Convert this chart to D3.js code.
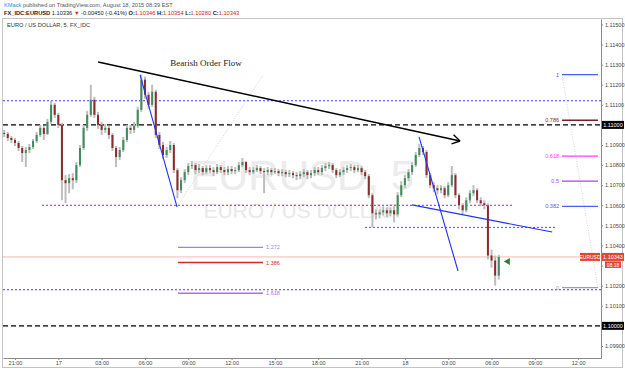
<!DOCTYPE html>
<html>
<head>
<meta charset="utf-8">
<script src="https://d3js.org/d3.v7.min.js"></script>
<style>
body { margin: 0; background: #fff; }
svg text { font-family: "Liberation Sans", Arial, sans-serif; }
</style>
</head>
<body>
<script>
// 15 minute EURUSD bars, time in hours from Aug 17 00:00
var startHour = -3.75;
var barHours = 0.25;
var firstOpen = 1.1096;

var closes = [
    1.10955, 1.10935, 1.10925, 1.1091, 1.10885, 1.1086, 1.10875, 1.1089, 1.1092, 1.1095,
    1.10985, 1.10955, 1.11015, 1.111, 1.1105, 1.11, 1.10725, 1.1071, 1.10735, 1.10725,
    1.108, 1.10885, 1.10985, 1.1105, 1.11125, 1.1105, 1.11, 1.10975, 1.10985, 1.1095,
    1.10885, 1.1084, 1.10875, 1.10925, 1.10985, 1.10975, 1.10995, 1.11075, 1.11225, 1.1115,
    1.111, 1.11165, 1.1095, 1.109, 1.1085, 1.10875, 1.109, 1.10775, 1.10675, 1.10725,
    1.10765, 1.10795, 1.108, 1.10775, 1.10785, 1.10765, 1.10785, 1.10775, 1.10765, 1.1079,
    1.10775, 1.10765, 1.1078, 1.1077, 1.10775, 1.108, 1.10815, 1.10775, 1.10765, 1.10775,
    1.10785, 1.1077, 1.10765, 1.10775, 1.10765, 1.1077, 1.1076, 1.10765, 1.10755, 1.1076,
    1.1075, 1.10745, 1.10755, 1.10765, 1.1075, 1.1076, 1.10775, 1.10765, 1.10785, 1.10795,
    1.108, 1.10775, 1.1075, 1.10765, 1.10775, 1.10785, 1.1079, 1.10775, 1.10785, 1.10765,
    1.10745, 1.1065, 1.1056, 1.10555, 1.10565, 1.10575, 1.1056, 1.10575, 1.10555, 1.1065,
    1.107, 1.10735, 1.10765, 1.108, 1.1085, 1.10885, 1.10865, 1.1075, 1.107, 1.10685,
    1.10675, 1.10685, 1.1065, 1.107, 1.1075, 1.1065, 1.106, 1.10575, 1.10625, 1.1066,
    1.10675, 1.10625, 1.1061, 1.106, 1.1035, 1.10325, 1.1025, 1.10343
];
var highs = [
    1.10975, 1.10965, 1.10945, 1.10935, 1.1092, 1.10895, 1.1089, 1.10905, 1.1093, 1.10965,
    1.11, 1.10995, 1.1103, 1.1112, 1.1111, 1.1106, 1.1101, 1.1075, 1.10755, 1.1076,
    1.10815, 1.109, 1.11, 1.1107, 1.112, 1.1114, 1.11065, 1.11015, 1.11005, 1.10995,
    1.1096, 1.10895, 1.1089, 1.1094, 1.11, 1.11, 1.11015, 1.1109, 1.1125, 1.1124,
    1.11165, 1.112, 1.11175, 1.10965, 1.10915, 1.1089, 1.1092, 1.1091, 1.10785, 1.1074,
    1.1078, 1.1081, 1.1082, 1.1081, 1.10805, 1.10795, 1.108, 1.108, 1.1079, 1.10805,
    1.108, 1.1079, 1.10795, 1.10795, 1.1079, 1.10815, 1.10835, 1.1082, 1.1079, 1.1079,
    1.108, 1.10795, 1.10785, 1.1079, 1.10785, 1.10785, 1.1078, 1.1078, 1.10775, 1.10775,
    1.1077, 1.10765, 1.1077, 1.1078, 1.10775, 1.10775, 1.1079, 1.1079, 1.108, 1.1081,
    1.10815, 1.1081, 1.10785, 1.1078, 1.1079, 1.108, 1.10805, 1.108, 1.108, 1.10795,
    1.10775, 1.10755, 1.1066, 1.1058, 1.1058, 1.10595, 1.1059, 1.1059, 1.10595, 1.10665,
    1.1072, 1.1075, 1.1078, 1.10815, 1.10865, 1.10905, 1.10895, 1.10875, 1.1076, 1.10715,
    1.107, 1.107, 1.10695, 1.10715, 1.10795, 1.1076, 1.1066, 1.1061, 1.1064, 1.10675,
    1.107, 1.10685, 1.1064, 1.10625, 1.1061, 1.1038, 1.1035, 1.10354
];
var lows = [
    1.1094, 1.1092, 1.1091, 1.10895, 1.1087, 1.10815, 1.1079, 1.1086, 1.1088, 1.1091,
    1.1094, 1.10925, 1.1095, 1.11005, 1.11035, 1.10985, 1.10625, 1.1061, 1.1066, 1.1068,
    1.1071, 1.1079, 1.10875, 1.1097, 1.1104, 1.11035, 1.1098, 1.1095, 1.1096, 1.1093,
    1.1087, 1.1079, 1.10825, 1.10865, 1.10915, 1.10955, 1.1096, 1.10985, 1.11065, 1.1113,
    1.1108, 1.1109, 1.10935, 1.1088, 1.1083, 1.10835, 1.1086, 1.1076, 1.10635, 1.1066,
    1.1071, 1.1075, 1.1078, 1.10755, 1.1076, 1.1075, 1.10755, 1.1076, 1.10745, 1.10755,
    1.1076, 1.1075, 1.1075, 1.10755, 1.10755, 1.10765, 1.1079, 1.1076, 1.1075, 1.10755,
    1.10765, 1.10755, 1.1066, 1.1075, 1.1075, 1.10755, 1.10745, 1.10745, 1.1074, 1.1074,
    1.10735, 1.10725, 1.1073, 1.1074, 1.1073, 1.10735, 1.10745, 1.1075, 1.1075, 1.1077,
    1.1078, 1.1076, 1.10735, 1.1074, 1.1075, 1.1076, 1.1077, 1.1076, 1.10765, 1.1075,
    1.1073, 1.10635, 1.1049, 1.1053, 1.10535, 1.1055, 1.1054, 1.10545, 1.10515, 1.10545,
    1.1064, 1.10685, 1.1072, 1.1075, 1.1079, 1.1084, 1.1085, 1.10735, 1.10685, 1.10665,
    1.10655, 1.1066, 1.10635, 1.1064, 1.1069, 1.10635, 1.1058, 1.10555, 1.10565, 1.1061,
    1.10645, 1.1061, 1.10595, 1.1058, 1.1033, 1.1029, 1.102, 1.1023
];

// axis ticks
var timeTicks = [-3, 0, 3, 6, 9, 12, 15, 18, 21, 24, 27, 30, 33, 36];
var timeTickLabels = ["21:00", "17", "03:00", "06:00", "09:00", "12:00", "15:00",
    "18:00", "21:00", "18", "03:00", "06:00", "09:00", "12:00"];
var priceTicks = [1.099, 1.100, 1.101, 1.102, 1.103, 1.104, 1.105, 1.106, 1.107,
    1.108, 1.109, 1.110, 1.111, 1.112, 1.113, 1.114, 1.115];
var markedPrices = [1.1100, 1.1000];
var lastPrice = 1.10343;

// drawn levels and tools: [hour, price]
var blueDottedLevels = [1.1112, 1.1018];
var blackDashedLevels = [1.1100, 1.1000];
var purpleSegments = [[[-1.13, 1.1060], [31.5, 1.1060]], [[21.24, 1.1049], [34.47, 1.1049]]];
var arrowLine = [[2.76, 1.11313], [27.82, 1.1092]];
var blueLines = [
    [[5.66, 1.11249], [8.22, 1.10592]],
    [[24.98, 1.1094], [27.68, 1.10273]],
    [[24.49, 1.10602], [34.2, 1.10467]]
];
var fibGuides = [
    [[8.22, 1.10592], [14.18, 1.11249]],
    [[34.88, 1.1125], [37.37, 1.1019]]
];
var fibLevels = [0, 0.382, 0.5, 0.618, 0.786, 1];
var fibLabels = ["0", "0.382", "0.5", "0.618", "0.786", "1"];
var fibLow = 1.1019, fibHigh = 1.1125, fibFrom = 34.88, fibTo = 37.37;
var extLevels = [1.272, 1.386, 1.618];
var extTop = 1.1123, extA = 1.1125, extB = 1.1059, extFrom = 8.29, extTo = 14.18;
var noteText = "Bearish Order Flow";
var notePos = [7.75, 1.11293];
var markerPos = [30.85, 1.1032];

var W = 625, H = 370;
var svg = d3.select("body").append("svg")
    .attr("width", W)
    .attr("height", H)
    .style("display", "block");

svg.append("rect").attr("width", W).attr("height", H).attr("fill", "#fff");

// scales
var x = d3.scaleLinear().domain([-3.83, 37.58]).range([3, 601]);
var y = d3.scaleLinear().domain([1.0984, 1.11527]).range([358, 19]);

// header
var head1 = svg.append("text").attr("x", 4).attr("y", 6.5)
    .attr("font-size", 5.7).attr("fill", "#555");
head1.append("tspan").attr("fill", "#2f8ddb").text("KMack");
head1.append("tspan").text(" published on TradingView.com, August 18, 2015 08:39 EST");

var head2 = svg.append("text").attr("x", 4).attr("y", 14.5)
    .attr("font-size", 5.7).attr("fill", "#222");
head2.append("tspan").attr("font-weight", "bold").text("FX_IDC:EURUSD");
head2.append("tspan").text(" 1.10336 ");
head2.append("tspan").attr("fill", "#c62828").text("\u25BC");
head2.append("tspan").text(" -0.00450 (-0.41%) ");
[["O:", "1.10346"], ["H:", "1.10354"], ["L:", "1.10280"], ["C:", "1.10343"]].forEach(function(p) {
    head2.append("tspan").attr("font-weight", "bold").text(p[0]);
    head2.append("tspan").attr("fill", "#c62828").text(p[1] + " ");
});

// panel frame
svg.append("rect")
    .attr("x", 2.5).attr("y", 18.5).attr("width", 620).attr("height", 349)
    .attr("fill", "none").attr("stroke", "#c4c4c4");

svg.append("text").attr("x", 7).attr("y", 27)
    .attr("font-size", 5.7).attr("fill", "#333")
    .text("EURO / US DOLLAR, 5, FX_IDC");

// watermark
svg.append("text").attr("x", 302).attr("y", 190)
    .attr("text-anchor", "middle").attr("font-size", 42).attr("fill", "#ececec")
    .text("EURUSD, 5");
svg.append("text").attr("x", 302).attr("y", 218)
    .attr("text-anchor", "middle").attr("font-size", 21).attr("fill", "#e8e8e8")
    .text("EURO / US DOLLAR");

var plot = svg.append("g");

// horizontal levels
plot.append("line")
    .attr("x1", 3).attr("x2", 601).attr("y1", y(lastPrice)).attr("y2", y(lastPrice))
    .attr("stroke", "#f6b8b0").attr("stroke-width", 1);

blueDottedLevels.forEach(function(p) {
    plot.append("line")
        .attr("x1", 3).attr("x2", 601).attr("y1", y(p)).attr("y2", y(p))
        .attr("stroke", "#3d3dff").attr("stroke-width", 1.1)
        .attr("stroke-dasharray", "2,2");
});
blackDashedLevels.forEach(function(p) {
    plot.append("line")
        .attr("x1", 3).attr("x2", 601).attr("y1", y(p)).attr("y2", y(p))
        .attr("stroke", "#000").attr("stroke-width", 1.4)
        .attr("stroke-dasharray", "5,3");
});
purpleSegments.forEach(function(s) {
    plot.append("line")
        .attr("x1", x(s[0][0])).attr("x2", x(s[1][0]))
        .attr("y1", y(s[0][1])).attr("y2", y(s[1][1]))
        .attr("stroke", "#8a2be2").attr("stroke-width", 1)
        .attr("stroke-dasharray", "2,2");
});

// fib guides (faint dotted)
fibGuides.forEach(function(s) {
    plot.append("line")
        .attr("x1", x(s[0][0])).attr("x2", x(s[1][0]))
        .attr("y1", y(s[0][1])).attr("y2", y(s[1][1]))
        .attr("stroke", "#c8c8c8").attr("stroke-width", 0.8)
        .attr("stroke-dasharray", "1,1.5");
});

// candles
var bars = closes.map(function(c, i) {
    return {
        t: startHour + i * barHours,
        o: i ? closes[i - 1] : firstOpen,
        h: highs[i],
        l: lows[i],
        c: c
    };
});

plot.selectAll(".wick").data(bars).enter().append("line")
    .attr("class", "wick")
    .attr("x1", function(d) { return x(d.t); })
    .attr("x2", function(d) { return x(d.t); })
    .attr("y1", function(d) { return y(d.h); })
    .attr("y2", function(d) { return y(d.l); })
    .attr("stroke", "#bdbdbd").attr("stroke-width", 2);

plot.selectAll(".body").data(bars).enter().append("rect")
    .attr("class", "body")
    .attr("x", function(d) { return x(d.t) - 1; })
    .attr("width", 2)
    .attr("y", function(d) { return y(Math.max(d.o, d.c)); })
    .attr("height", function(d) { return Math.max(0.8, Math.abs(y(d.o) - y(d.c))); })
    .attr("fill", function(d) { return d.c >= d.o ? "#3f8c5c" : "#8f2a2a"; });

// blue trend lines
blueLines.forEach(function(s) {
    plot.append("line")
        .attr("x1", x(s[0][0])).attr("x2", x(s[1][0]))
        .attr("y1", y(s[0][1])).attr("y2", y(s[1][1]))
        .attr("stroke", "#1f2fff").attr("stroke-width", 1.1);
});

// bearish arrow
var ax1 = x(arrowLine[0][0]), ay1 = y(arrowLine[0][1]);
var ax2 = x(arrowLine[1][0]), ay2 = y(arrowLine[1][1]);
plot.append("line")
    .attr("x1", ax1).attr("y1", ay1).attr("x2", ax2).attr("y2", ay2)
    .attr("stroke", "#000").attr("stroke-width", 1.6);
var ang = Math.atan2(ay2 - ay1, ax2 - ax1);
[-0.55, 0.55].forEach(function(a) {
    plot.append("line")
        .attr("x1", ax2).attr("y1", ay2)
        .attr("x2", ax2 - 9 * Math.cos(ang + a))
        .attr("y2", ay2 - 9 * Math.sin(ang + a))
        .attr("stroke", "#000").attr("stroke-width", 1.4);
});
svg.append("text")
    .attr("x", x(notePos[0])).attr("y", y(notePos[1]))
    .style("font-family", "'Liberation Serif', 'Times New Roman', serif")
    .attr("font-size", 9).attr("fill", "#222")
    .text(noteText);

// fib retracement (right)
var fibColors = ["#a0a0a0", "#4e5cff", "#a648dc", "#ff3cff", "#7a1f1f", "#4e5cff"];
fibLevels.forEach(function(f, i) {
    var p = fibLow + f * (fibHigh - fibLow);
    plot.append("line")
        .attr("x1", x(fibFrom)).attr("x2", x(fibTo))
        .attr("y1", y(p)).attr("y2", y(p))
        .attr("stroke", fibColors[i]).attr("stroke-width", 1.3);
    plot.append("text")
        .attr("x", x(fibFrom) - 3).attr("y", y(p) + 2)
        .attr("text-anchor", "end").attr("font-size", 5.5)
        .attr("fill", fibColors[i])
        .text(fibLabels[i]);
});

// fib extension (left)
var extColors = ["#8a8ae8", "#d42a2a", "#b070e0"];
extLevels.forEach(function(f, i) {
    var p = extTop - f * (extA - extB);
    plot.append("line")
        .attr("x1", x(extFrom)).attr("x2", x(extTo))
        .attr("y1", y(p)).attr("y2", y(p))
        .attr("stroke", extColors[i]).attr("stroke-width", 1.3);
    plot.append("text")
        .attr("x", x(extTo) + 3).attr("y", y(p) + 2)
        .attr("font-size", 5.5).attr("fill", extColors[i])
        .text(f.toFixed(3));
});

// green marker
var mx = x(markerPos[0]), my = y(markerPos[1]);
plot.append("path")
    .attr("d", "M" + mx + "," + my + "L" + (mx + 6) + "," + (my - 3.5) + "L" + (mx + 6) + "," + (my + 3.5) + "Z")
    .attr("fill", "#2e7d32");

// axes
var yAxis = svg.append("g")
    .attr("transform", "translate(601,0)")
    .call(d3.axisRight(y).tickValues(priceTicks).tickFormat(d3.format(".5f"))
        .tickSize(2).tickSizeOuter(0).tickPadding(2));
var xAxis = svg.append("g")
    .attr("transform", "translate(0,358)")
    .call(d3.axisBottom(x).tickValues(timeTicks)
        .tickFormat(function(d, i) { return timeTickLabels[i]; })
        .tickSize(2).tickSizeOuter(0).tickPadding(1.5));
[yAxis, xAxis].forEach(function(g) {
    g.select(".domain").attr("stroke", "#8a8a8a");
    g.selectAll(".tick line").attr("stroke", "#8a8a8a");
    g.selectAll(".tick text").attr("font-size", 5.5).attr("fill", "#444");
});

// tick labels covered by the marked boxes are not shown
yAxis.selectAll(".tick text")
    .filter(function(d) {
        return markedPrices.some(function(p) { return Math.abs(p - d) < 1e-6; }) ||
            Math.abs(y(d) - y(lastPrice)) < 10;
    })
    .remove();

// highlighted axis labels
markedPrices.forEach(function(p) {
    svg.append("rect").attr("x", 602).attr("y", y(p) - 4).attr("width", 22).attr("height", 8)
        .attr("fill", "#000");
    svg.append("text").attr("x", 613).attr("y", y(p) + 2)
        .attr("text-anchor", "middle").attr("font-size", 5.5).attr("fill", "#fff")
        .text(d3.format(".5f")(p));
});
svg.append("rect").attr("x", 602).attr("y", y(lastPrice) - 4).attr("width", 22).attr("height", 8)
    .attr("fill", "#e0452f");
svg.append("text").attr("x", 613).attr("y", y(lastPrice) + 2)
    .attr("text-anchor", "middle").attr("font-size", 5.5).attr("fill", "#fff")
    .text(d3.format(".5f")(lastPrice));
svg.append("rect").attr("x", 580).attr("y", y(lastPrice) - 4).attr("width", 20).attr("height", 8)
    .attr("fill", "#e0452f");
svg.append("text").attr("x", 590).attr("y", y(lastPrice) + 2)
    .attr("text-anchor", "middle").attr("font-size", 5).attr("fill", "#fff")
    .text("EURUSD");
svg.append("rect").attr("x", 605).attr("y", y(lastPrice) + 4.5).attr("width", 16).attr("height", 6.5)
    .attr("fill", "#e0452f");
svg.append("text").attr("x", 613).attr("y", y(lastPrice) + 9.8)
    .attr("text-anchor", "middle").attr("font-size", 5).attr("fill", "#fff")
    .text("08:18");
</script>
</body>
</html>
